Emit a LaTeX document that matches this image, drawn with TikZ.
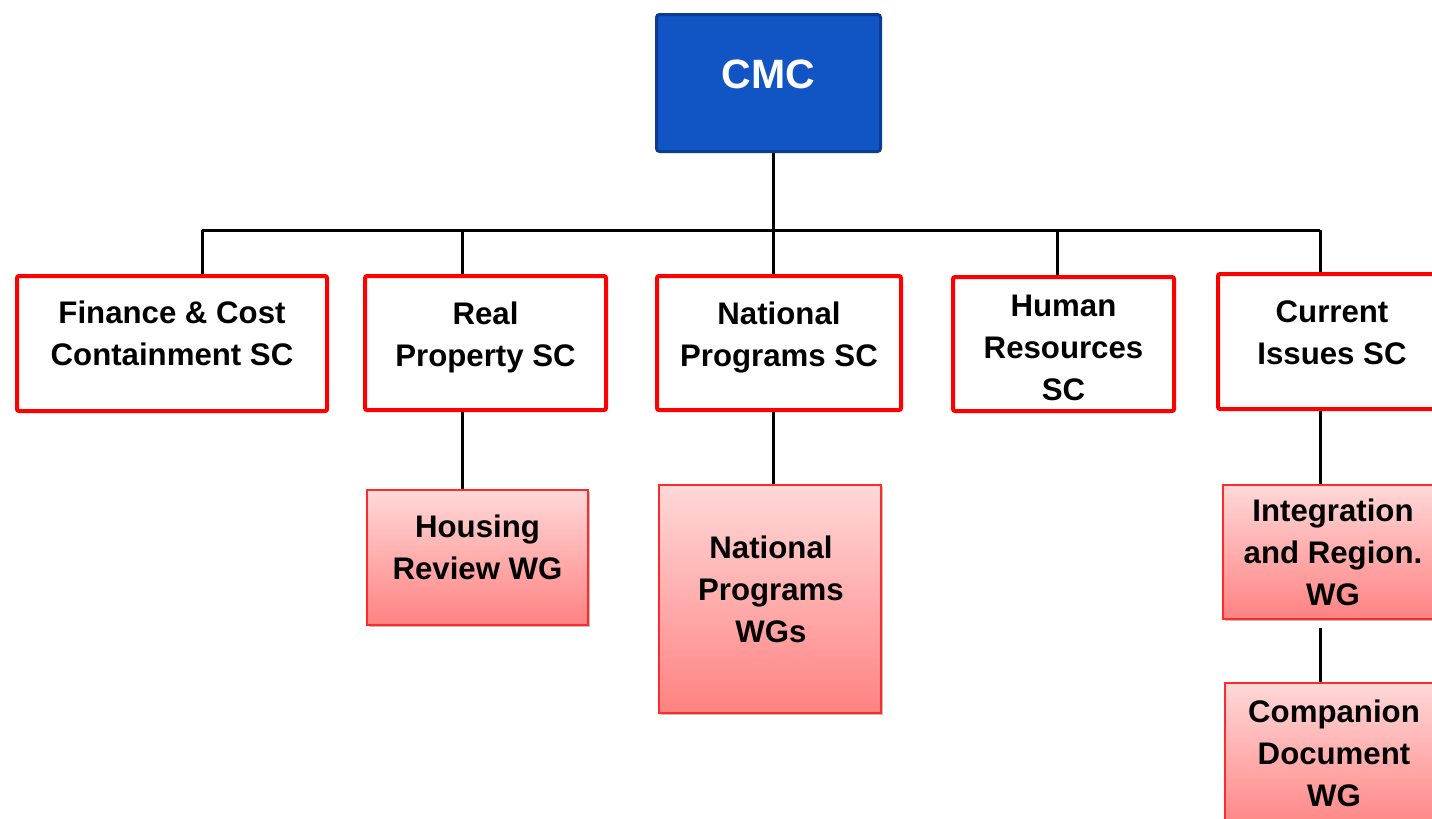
\documentclass[tikz,border=0pt]{standalone}
\usepackage{fontspec}
\setmainfont{Liberation Sans}
\usetikzlibrary{shadows,backgrounds}
\definecolor{cmcblue}{HTML}{1155C4}
\definecolor{cmcborder}{HTML}{0A3D91}
\definecolor{scred}{HTML}{FF0000}
\definecolor{wgtop}{HTML}{FFD8D8}
\definecolor{wgbot}{HTML}{FF8282}
\definecolor{wgborder}{HTML}{FF2A2A}
\tikzset{
  cmcbox/.style={draw=cmcborder, fill=cmcblue, line width=1.5pt, rounded corners=1.5pt, inner sep=0pt},
  scbox/.style={draw=scred, fill=white, line width=2pt, rounded corners=1pt, inner sep=0pt,
    drop shadow={shadow xshift=0.8pt, shadow yshift=-0.8pt, opacity=0.2, fill=black}},
  wgbox/.style={draw=wgborder, top color=wgtop, bottom color=wgbot, line width=0.9pt, inner sep=0pt,
    drop shadow={shadow xshift=1pt, shadow yshift=-1pt, opacity=0.25, fill=black}},
  txt/.style={font=\fontsize{15.6}{21}\selectfont\bfseries, align=center, anchor=base, inner sep=0pt, text=black},
  cmctxt/.style={font=\fontsize{20.5}{24}\selectfont\bfseries, anchor=base, inner sep=0pt, text=white},
  conn/.style={line width=1.5pt, draw=black}
}
\begin{document}
\begin{tikzpicture}[x=0.5pt, y=-0.5pt]
\useasboundingbox (0,0) rectangle (1432,819);
% boxes
\node[cmcbox, minimum width=112pt, minimum height=68.5pt] (cmc) at (768.5,83) {};
\node[scbox, minimum width=155pt, minimum height=67.5pt] (fin) at (172,343.5) {};
\node[scbox, minimum width=120.5pt, minimum height=67pt] (rp) at (485.5,343) {};
\node[scbox, minimum width=122pt, minimum height=67pt] (nps) at (779,343) {};
\node[scbox, minimum width=110.5pt, minimum height=67pt] (hr) at (1063.5,344) {};
\node[scbox, minimum width=116pt, minimum height=67.5pt] (cur) at (1334,341.5) {};
\node[wgbox, minimum width=110.5pt, minimum height=67.5pt] (hrw) at (477.5,557.5) {};
\node[wgbox, minimum width=111pt, minimum height=114pt] (npw) at (770,599) {};
\node[wgbox, minimum width=111pt, minimum height=67pt] (irw) at (1334,552) {};
\node[wgbox, minimum width=109pt, minimum height=75pt] (cdw) at (1334,758) {};
% texts (anchored at the baseline of the last line)
\node[cmctxt] (tcmc) at (768.5,88) {CMC};
\node[txt] (tfin) at (172,365) {Finance \& Cost\\Containment SC};
\node[txt] (trp) at (485.5,366) {Real\\Property SC};
\node[txt] (tnps) at (779,366) {National\\Programs SC};
\node[txt] (thr) at (1063.5,400) {Human\\Resources\\SC};
\node[txt] (tcur) at (1332,364) {Current\\Issues SC};
\node[txt] (thrw) at (477.5,579) {Housing\\Review WG};
\node[txt] (tnpw) at (771,642) {National\\Programs\\WGs};
\node[txt] (tirw) at (1333,605) {Integration\\and Region.\\WG};
\node[txt] (tcdw) at (1334,806) {Companion\\Document\\WG};
% connectors
\coordinate (bus) at (773,230);
\coordinate (d1) at (202,230);
\coordinate (d2) at (462,230);
\coordinate (d4) at (1057,230);
\coordinate (d5) at (1320,230);
\begin{pgfonlayer}{background}
\fill[white] (0,0) rectangle (1432,819);
\draw[conn] (cmc.south -| bus) -- (bus);
\draw[conn] (d1) -- (d5);
\draw[conn] (d1) -- (d1 |- fin.north);
\draw[conn] (d2) -- (d2 |- rp.north);
\draw[conn] (bus) -- (bus |- nps.north);
\draw[conn] (d4) -- (d4 |- hr.north);
\draw[conn] (d5) -- (d5 |- cur.north);
\draw[conn] (rp.south -| d2) -- (hrw.north -| d2);
\draw[conn] (nps.south -| bus) -- (npw.north -| bus);
\draw[conn] (cur.south -| d5) -- (irw.north -| d5);
\draw[conn] ([yshift=-4pt]irw.south -| d5) -- (cdw.north -| d5);
\end{pgfonlayer}
\end{tikzpicture}
\end{document}
